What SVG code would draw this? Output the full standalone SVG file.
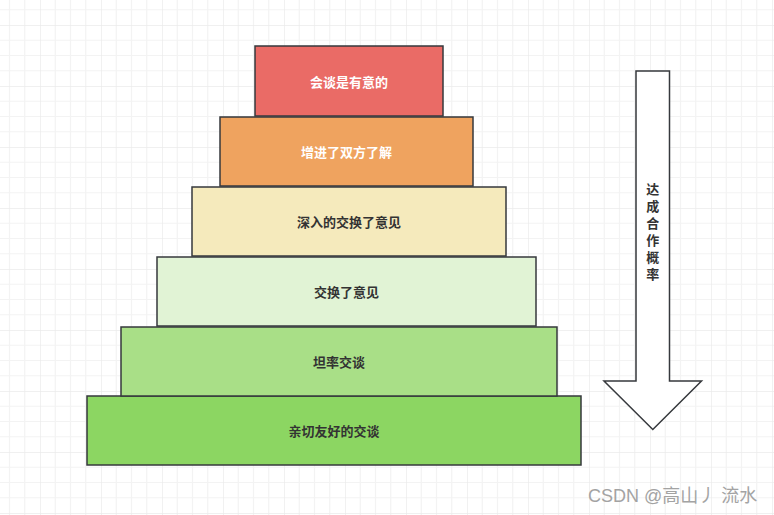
<svg xmlns="http://www.w3.org/2000/svg" width="774" height="515" viewBox="0 0 774 515">
  <defs>
    <pattern id="grid" x="40" y="25" width="61" height="61" patternUnits="userSpaceOnUse">
      <path d="M15.25 0V61M30.5 0V61M45.75 0V61M0 15.25H61M0 30.5H61M0 45.75H61" stroke="#f3f3f3" stroke-width="1.2" fill="none"/>
      <path d="M0 0V61M0 0H61" stroke="#ebebeb" stroke-width="1.4" fill="none"/>
    </pattern>
    <style>
      .box { stroke: #36393d; stroke-width: 1.5; }
      .t { font-family: "Noto Sans CJK SC", "Liberation Sans", sans-serif; font-size: 13px; font-weight: bold; text-anchor: middle; dominant-baseline: central; }
      .w { fill: #ffffff; }
      .d { fill: #333333; }
      .v { font-family: "Noto Sans CJK SC", "Liberation Sans", sans-serif; font-size: 13px; font-weight: bold; fill: #333333; writing-mode: vertical-rl; letter-spacing: 4px; }
    </style>
  </defs>
  <rect width="774" height="515" fill="#ffffff"/>
  <rect width="774" height="515" fill="url(#grid)"/>

  <g id="level6">
    <rect class="box" x="87" y="396" width="494" height="69" fill="#8cd662"/>
    <text class="t d" x="334" y="430.5">亲切友好的交谈</text>
  </g>
  <g id="level5">
    <rect class="box" x="121" y="327" width="436" height="69" fill="#a9df87"/>
    <text class="t d" x="339" y="361.5">坦率交谈</text>
  </g>
  <g id="level4">
    <rect class="box" x="157" y="257" width="379" height="69" fill="#e1f3d5"/>
    <text class="t d" x="346.5" y="291.5">交换了意见</text>
  </g>
  <g id="level3">
    <rect class="box" x="192" y="187" width="314" height="69" fill="#f5eabc"/>
    <text class="t d" x="349" y="221.5">深入的交换了意见</text>
  </g>
  <g id="level2">
    <rect class="box" x="220" y="117" width="253" height="69" fill="#efa35f"/>
    <text class="t w" x="346.5" y="151.5">增进了双方了解</text>
  </g>
  <g id="level1">
    <rect class="box" x="255" y="46" width="188" height="70" fill="#ea6b66"/>
    <text class="t w" x="349" y="81">会谈是有意的</text>
  </g>

  <g id="arrow">
    <path class="box" d="M636 71H669.5V381H701.5L652.8 429.5L604 381H636Z" fill="#ffffff"/>
    <text class="v" x="652.8" y="182.5">达成合作概率</text>
  </g>

  <text x="588" y="502" font-family="Liberation Sans, Noto Sans CJK SC, sans-serif" font-size="18" fill="#a3a3a3">CSDN @高山丿 流水</text>
</svg>
